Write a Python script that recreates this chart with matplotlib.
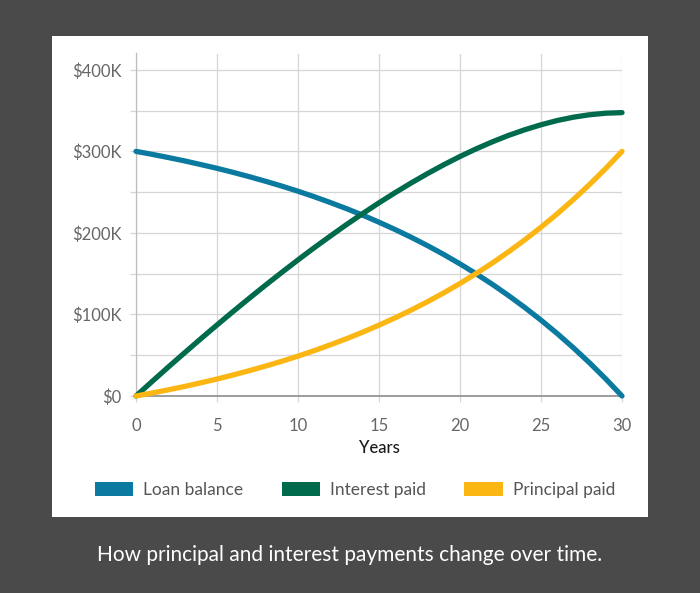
import numpy as np
import matplotlib
matplotlib.use("Agg")
import matplotlib.pyplot as plt
from matplotlib.patches import Rectangle, Patch

plt.rcParams['font.family'] = ['Lato', 'DejaVu Sans']

# values, in $K
years = list(range(0, 31))
loan_balance = [300.0, 296.3, 292.4, 288.3, 283.8, 279.2, 274.2, 268.9, 263.3, 257.4,
                251.1, 244.4, 237.2, 229.7, 221.7, 213.1, 204.1, 194.5, 184.3, 173.5,
                162.0, 149.8, 136.9, 123.1, 108.5, 93.0, 76.6, 59.1, 40.6, 20.9, 0.0]
interest_paid = [0.0, 17.9, 35.6, 53.0, 70.2, 87.1, 103.7, 120.0, 136.0, 151.6,
                 166.9, 181.8, 196.2, 210.3, 223.8, 236.9, 249.4, 261.4, 272.8, 283.6,
                 293.7, 303.1, 311.7, 319.6, 326.5, 332.6, 337.8, 341.9, 344.9, 346.8, 347.5]
principal_paid = [0.0, 3.7, 7.6, 11.7, 16.2, 20.8, 25.8, 31.1, 36.7, 42.6,
                  48.9, 55.6, 62.8, 70.3, 78.3, 86.9, 95.9, 105.5, 115.7, 126.5,
                  138.0, 150.2, 163.1, 176.9, 191.5, 207.0, 223.4, 240.9, 259.4, 279.1, 300.0]

series_names = ['Loan balance', 'Interest paid', 'Principal paid']
series_colors = ['#0b7aa0', '#006a4d', '#fbb614']
x_ticks = [0, 5, 10, 15, 20, 25, 30]
grid_ticks = [0, 50, 100, 150, 200, 250, 300, 350, 400]
y_labels = {0: '$0', 100: '$100K', 200: '$200K', 300: '$300K', 400: '$400K'}
caption = 'How principal and interest payments change over time.'

fig = plt.figure(figsize=(7, 5.93), dpi=100)
fig.patch.set_facecolor('#4a4a4a')
# white card behind the chart
card = Rectangle((52/700, 76/593), 596/700, 481/593, transform=fig.transFigure,
                 facecolor='white', edgecolor='none', zorder=-5)
fig.patches.append(card)

ax = fig.add_axes([136/700, 197/593, 486/700, 342.5/593])
ax.set_facecolor('none')

for vals, c in zip([loan_balance, interest_paid, principal_paid], series_colors):
    ax.plot(years, vals, color=c, lw=3.8, solid_capstyle='round', clip_on=False, zorder=3)

ax.set_xlim(0, 30)
ax.set_ylim(0, 420)
ax.set_xticks(x_ticks)
ax.set_yticks(grid_ticks)
ax.set_yticklabels([y_labels.get(v, '') for v in grid_ticks])
ax.grid(True, color='#d6d6d6', lw=0.9)
ax.set_axisbelow(True)
ax.tick_params(axis='both', colors='#d6d6d6', length=4.5, width=0.9,
               labelcolor='#666666', labelsize=12)
ax.tick_params(axis='y', pad=6)
ax.tick_params(axis='x', pad=11)
for s in ['top', 'right']:
    ax.spines[s].set_visible(False)
ax.spines['left'].set_color('#bdbdbd')
ax.spines['left'].set_linewidth(0.9)
ax.spines['bottom'].set_color('#8c8c8c')
ax.spines['bottom'].set_linewidth(1.2)
ax.set_xlabel('Years', fontsize=12, color='#1a1a1a', labelpad=5, fontweight='medium')

handles = [Patch(facecolor=c, edgecolor='none') for c in series_colors]
fig.legend(handles, series_names, loc='center', bbox_to_anchor=(355/700, 1 - 490/593),
           ncol=3, frameon=False, fontsize=12.5, labelcolor='#555555',
           handlelength=2.2, handleheight=0.8, handletextpad=0.6, columnspacing=2.2)

fig.text(0.5, 1 - 555/593, caption, ha='center', va='center', color='white', fontsize=15)

fig.savefig('out.png', dpi=100, facecolor=fig.get_facecolor())
